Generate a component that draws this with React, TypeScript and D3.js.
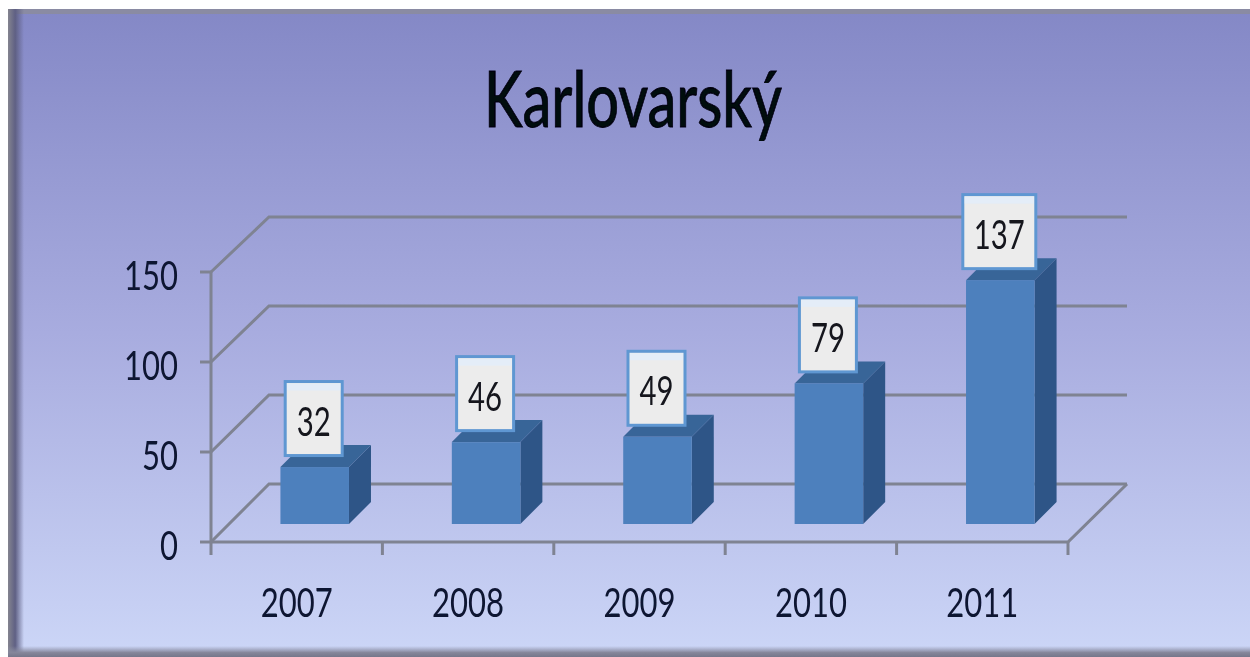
import React from "react";
import * as d3 from "d3";

const categories = ["2007", "2008", "2009", "2010", "2011"];
const values = [32, 46, 49, 79, 137];
const yTicks = [0, 50, 100, 150];
const titleText = "Karlovarský";

const W = 1250, H = 657;
const axisX0 = 211, axisX1 = 1068, axisY0 = 542, axisY150 = 272;
const depth = 58, barDepth = 22, barLift = 18;

const y = d3.scaleLinear().domain([0, 150]).range([axisY0, axisY150]);
const yBack = d3.scaleLinear().domain([0, 150]).range([484, 217]);
const yBar = d3.scaleLinear().domain([0, 150]).range([524, 257]);
const x = d3.scaleBand<string>().domain(categories).range([axisX0, axisX1]).paddingInner(0.6).paddingOuter(0.3);
const xOuter = d3.scaleBand<string>().domain(categories).range([axisX0, axisX1]);
const line = d3.line<[number, number]>();

const gridColor = "#7f8392";
const textColor = "#0e1430";
const font = "Lato, 'Noto Sans', sans-serif";
const digitW = 18;

export default function App() {
  return (
    <svg width={W} height={H} viewBox={`0 0 ${W} ${H}`} style={{ position: "absolute", left: 0, top: 0, display: "block" }}>
      <defs>
        <linearGradient id="bg" x1="0" y1="0" x2="0" y2="1">
          <stop offset="0" stopColor="#8488c6" />
          <stop offset="0.5" stopColor="#a8acdf" />
          <stop offset="1" stopColor="#ccd6f7" />
        </linearGradient>
        <linearGradient id="frameLeft" x1="0" y1="0" x2="1" y2="0">
          <stop offset="0" stopColor="#84848f" />
          <stop offset="0.45" stopColor="#5f6084" />
          <stop offset="1" stopColor="#5f6084" stopOpacity="0" />
        </linearGradient>
        <linearGradient id="frameBottom" x1="0" y1="0" x2="0" y2="1">
          <stop offset="0" stopColor="#8b8ea6" stopOpacity="0" />
          <stop offset="0.6" stopColor="#85869a" />
          <stop offset="1" stopColor="#75768a" />
        </linearGradient>
        <filter id="soft" x="-5%" y="-5%" width="110%" height="110%">
          <feGaussianBlur stdDeviation="0.7" />
        </filter>
      </defs>

      <rect x={0} y={0} width={W} height={H} fill="#ffffff" />
      <rect x={8} y={9} width={W - 8} height={H - 9} fill="url(#bg)" />
      <rect x={8} y={9} width={W - 8} height={5} fill="#8a8ba3" />
      <rect x={8} y={9} width={16} height={H - 9} fill="url(#frameLeft)" />
      <rect x={8} y={646} width={W - 8} height={11} fill="url(#frameBottom)" />

      <g filter="url(#soft)">
        <g fill="none" stroke={gridColor} strokeWidth={3}>
          {yTicks.map((t) => (
            <path
              key={t}
              d={line([
                [axisX0, y(t)],
                [axisX0 + depth, yBack(t)],
                [axisX1 + depth + 1, yBack(t)],
              ]) ?? ""}
            />
          ))}
          <path d={line([[axisX1 + depth + 1, yBack(0)], [axisX1, y(0)], [axisX0, y(0)]]) ?? ""} />
          <path d={line([[axisX0, y(150)], [axisX0, y(0) + 13]]) ?? ""} />
          {yTicks.map((t) => (
            <path key={`yt${t}`} d={line([[axisX0 - 11, y(t)], [axisX0, y(t)]]) ?? ""} />
          ))}
          {categories.map((c) => (
            <path key={`xt${c}`} d={line([[xOuter(c)! + xOuter.bandwidth(), y(0)], [xOuter(c)! + xOuter.bandwidth(), y(0) + 13]]) ?? ""} />
          ))}
        </g>

        {categories.map((c, i) => {
          const bw = x.bandwidth();
          const left = x(c)! + barLift;
          const right = left + bw;
          const bottom = yBar(0);
          const top = yBar(values[i]);
          return (
            <g key={c}>
              <path d={(line([[right, bottom], [right + barDepth, bottom - barDepth], [right + barDepth, top - barDepth], [right, top]]) ?? "") + "Z"} fill="#2f5587" />
              <path d={(line([[left, top], [left + barDepth, top - barDepth], [right + barDepth, top - barDepth], [right, top]]) ?? "") + "Z"} fill="#386598" />
              <rect x={left} y={top} width={bw} height={bottom - top} fill="#4e80bd" />
            </g>
          );
        })}

        {categories.map((c, i) => {
          const center = x(c)! + barLift + x.bandwidth() / 2 - 1;
          const digits = String(values[i]).length;
          const boxW = digits > 2 ? 73 : 57;
          const boxH = 74;
          const bottom = yBar(values[i]) - 11.5;
          return (
            <g key={`lab${c}`}>
              <rect x={center - boxW / 2} y={bottom - boxH} width={boxW} height={boxH} fill="#ececec" stroke="#5f97d2" strokeWidth={3} />
              <rect x={center - boxW / 2 + 2} y={bottom - boxH + 2} width={boxW - 4} height={7} fill="#e4edf8" />
              <text
                x={center}
                y={bottom - 20}
                textAnchor="middle"
                fontFamily={font}
                fontSize={41}
                fill="#14161f"
                textLength={digits * 17}
                lengthAdjust="spacingAndGlyphs"
              >
                {values[i]}
              </text>
            </g>
          );
        })}

        {yTicks.map((t) => {
          const n = String(t).length;
          return (
            <text key={`yl${t}`} x={178 - (n * digitW) / 2} y={y(t) + 18} textAnchor="middle" fontFamily={font} fontSize={41} fill={textColor} textLength={n * digitW} lengthAdjust="spacingAndGlyphs">
              {t}
            </text>
          );
        })}
        {categories.map((c) => (
          <text key={`xl${c}`} x={xOuter(c)! + xOuter.bandwidth() / 2} y={617} textAnchor="middle" fontFamily={font} fontSize={41} fill={textColor} textLength={c.length * digitW} lengthAdjust="spacingAndGlyphs">
            {c}
          </text>
        ))}
        <text x={633} y={127} textAnchor="middle" fontFamily={font} fontWeight={500} fontSize={78} fill="#05070f" stroke="#05070f" strokeWidth={0.8} textLength={298} lengthAdjust="spacingAndGlyphs">
          {titleText}
        </text>
      </g>
    </svg>
  );
}
